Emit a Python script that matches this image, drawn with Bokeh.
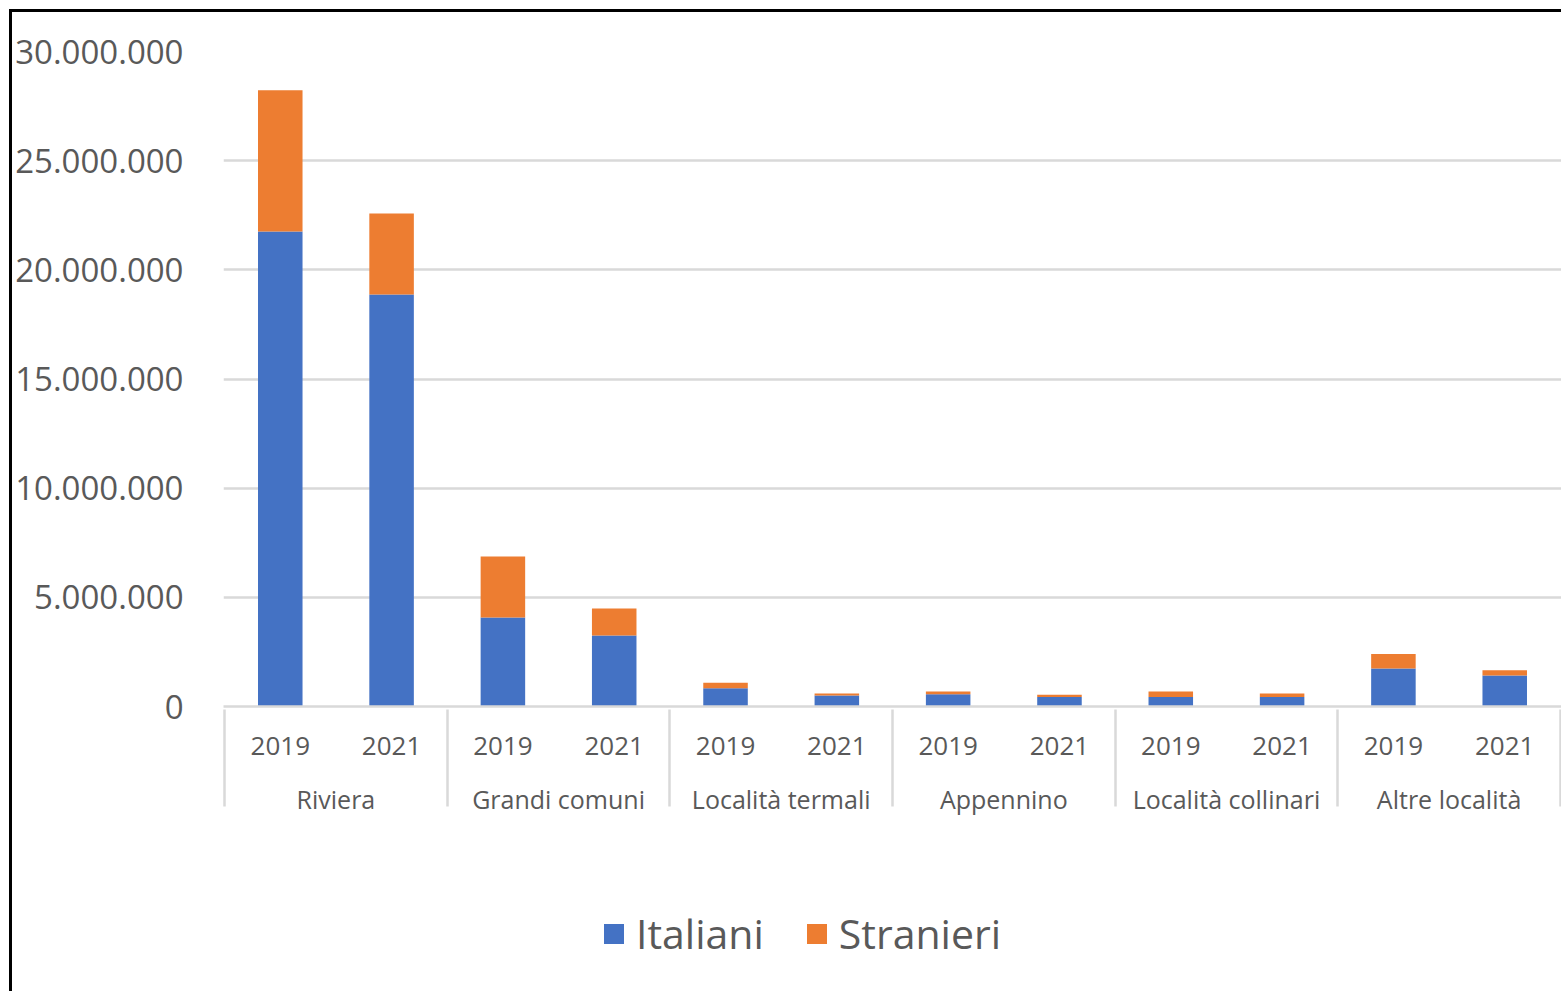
from bokeh.plotting import figure
from bokeh.layouts import column
from bokeh.models import ColumnDataSource, FactorRange, Legend, LegendItem, FixedTicker, Range1d
from bokeh.embed import file_html
from bokeh.resources import INLINE

groups = ["Riviera", "Grandi comuni", "Località termali", "Appennino", "Località collinari", "Altre località"]
years = ["2019", "2021"]
italiani = [21760000, 18870000, 4080000, 3250000, 840000, 500000, 560000, 430000, 430000, 430000, 1740000, 1420000]
stranieri = [6460000, 3710000, 2790000, 1240000, 250000, 100000, 130000, 110000, 260000, 170000, 670000, 240000]
y_ticks = [0, 5000000, 10000000, 15000000, 20000000, 25000000, 30000000]
y_tick_labels = ["0", "5.000.000", "10.000.000", "15.000.000", "20.000.000", "25.000.000", "30.000.000"]
series = ["Italiani", "Stranieri"]
colors = ["#4472C4", "#ED7D31"]

factors = [(g, y) for g in groups for y in years]
source = ColumnDataSource(dict(x=factors, Italiani=italiani, Stranieri=stranieri))

FONT = "Open Sans"
GREY = "#595959"
LINE = "#d9d9d9"

W = 1549
H1 = 819
H2 = 160

# empty edge slots (trimmed away by negative padding) so that the outer group separators are drawn
range_factors = [(" ", " ")] + factors + [("  ", "  ")]
x_range = FactorRange(*range_factors, range_padding=-0.99, range_padding_units="absolute",
                      factor_padding=0, subgroup_padding=0, group_padding=0)
p = figure(x_range=x_range, y_range=Range1d(0, 30000000), width=W, height=H1,
           output_backend="svg", toolbar_location=None,
           min_border_left=211, min_border_right=0, min_border_top=39, min_border_bottom=H1 - 39 - 655)

p.vbar_stack(series, x="x", width=0.4, color=colors, source=source, line_color=None)

p.outline_line_color = None
p.xgrid.grid_line_color = None
p.ygrid.grid_line_color = LINE
p.ygrid.grid_line_width = 2.5

p.yaxis.ticker = FixedTicker(ticks=y_ticks)
p.yaxis.major_label_overrides = {t: l for t, l in zip(y_ticks, y_tick_labels)}
p.yaxis.axis_line_color = None
p.yaxis.major_tick_line_color = None
p.yaxis.minor_tick_line_color = None
p.yaxis.major_label_text_font = FONT
p.yaxis.major_label_text_font_size = "33px"
p.yaxis.major_label_text_color = GREY
p.yaxis.major_label_standoff = 34

p.xaxis.axis_line_color = LINE
p.xaxis.axis_line_width = 2.5
p.xaxis.major_tick_line_color = None
p.xaxis.minor_tick_line_color = None
p.xaxis.major_label_text_font = FONT
p.xaxis.major_label_text_font_size = "26px"
p.xaxis.major_label_text_color = GREY
p.xaxis.major_label_standoff = 24
p.xaxis.group_text_font = FONT
p.xaxis.group_text_font_size = "25px"
p.xaxis.group_text_font_style = "normal"
p.xaxis.group_text_color = GREY
p.xaxis.separator_line_color = LINE
p.xaxis.separator_line_width = 2.5

# legend strip: same series as hidden renderers, only the legend is shown
p2 = figure(x_range=FactorRange(*factors), y_range=Range1d(0, 1), width=W, height=H2,
            output_backend="svg", toolbar_location=None,
            min_border_left=0, min_border_right=0, min_border_top=0, min_border_bottom=0)
r2 = p2.vbar_stack(series, x="x", width=0.4, color=colors, source=source, line_color=None)
for rr in r2:
    rr.visible = False
p2.axis.visible = False
p2.grid.visible = False
p2.outline_line_color = None

legend = Legend(items=[LegendItem(label=s, renderers=[rr]) for s, rr in zip(series, r2)],
                orientation="horizontal", location=(378, 30))
legend.label_text_font = FONT
legend.label_text_font_size = "41px"
legend.label_text_color = GREY
legend.glyph_width = 25
legend.glyph_height = 25
legend.spacing = 40
legend.label_standoff = 10
legend.border_line_color = None
legend.background_fill_alpha = 0
legend.inactive_fill_alpha = 0
legend.margin = 0
legend.padding = 0
p2.add_layout(legend, "center")

layout = column(p, p2, spacing=0)
layout.margin = (9, 0, 0, 9)
layout.styles = {"border-top": "3px solid black", "border-left": "3px solid black"}

open("out.html", "w").write(file_html(layout, INLINE))
